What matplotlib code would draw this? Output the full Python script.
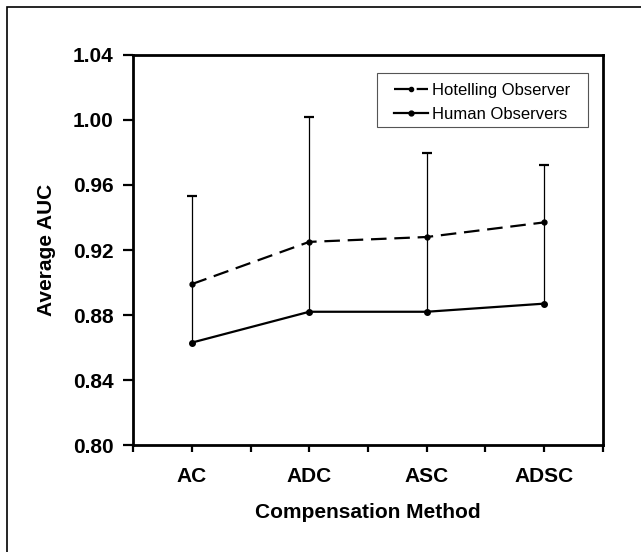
import numpy as np
import matplotlib.pyplot as plt
from matplotlib.patches import Rectangle
from matplotlib.lines import Line2D

plt.rcParams['font.family'] = ['Liberation Sans', 'DejaVu Sans']

methods = ['AC', 'ADC', 'ASC', 'ADSC']
hotelling = [0.899, 0.925, 0.928, 0.937]
human = [0.863, 0.882, 0.882, 0.887]
err_top = [0.953, 1.002, 0.9795, 0.972]

x = np.arange(1, len(methods) + 1)

fig = plt.figure(figsize=(6.41, 5.52), dpi=100)
ax = fig.add_axes([0.2075, 0.1938, 0.7332, 0.7066])

# error bars: from human mean up to the cap
ax.vlines(x, human, err_top, color='black', lw=0.9, zorder=2)
ax.plot(x, err_top, ls='none', marker='_', ms=7, mew=1.6, color='black', zorder=2)

ax.plot(x, hotelling, color='black', lw=1.6, dashes=(7, 3.5),
        marker='o', ms=3.5, zorder=3)
ax.plot(x, human, color='black', lw=1.6, marker='o', ms=4, zorder=3)

ax.set_xlim(0.5, 4.5)
ax.set_ylim(0.80, 1.04)
ax.set_yticks(np.arange(0.80, 1.041, 0.04))
ax.set_yticklabels(['%.2f' % v for v in np.arange(0.80, 1.041, 0.04)])
ax.set_xticks(x)
ax.set_xticklabels(methods)
ax.set_xticks(np.arange(0.5, 4.6, 1.0), minor=True)

for lab in ax.get_xticklabels() + ax.get_yticklabels():
    lab.set_fontweight('bold')
    lab.set_fontsize(15)
ax.tick_params(axis='y', direction='out', length=7, width=1.6, pad=7)
ax.tick_params(axis='x', which='both', direction='out', length=5, width=1.6, pad=11)

for s in ax.spines.values():
    s.set_linewidth(2)

ax.set_xlabel('Compensation Method', fontsize=15, fontweight='bold')
ax.set_ylabel('Average AUC', fontsize=15, fontweight='bold')
ax.xaxis.set_label_coords(0.5, -0.149)
ax.yaxis.set_label_coords(-0.164, 0.5)

handles = [
    Line2D([], [], color='black', lw=1.6, dashes=(7.6, 2.6), marker='o', ms=3),
    Line2D([], [], color='black', lw=1.6, marker='o', ms=3.5),
]
leg = ax.legend(handles, ['Hotelling Observer', 'Human Observers'],
                loc='upper left', bbox_to_anchor=(0.555, 0.929),
                fontsize=12, frameon=False, handlelength=2.05,
                handletextpad=0.25, borderpad=0, labelspacing=0.55,
                borderaxespad=0)
ax.add_patch(Rectangle((0.519, 0.815), 0.449, 0.139, transform=ax.transAxes,
                       fill=False, lw=0.8, ec='#555555', zorder=4))

# outer frame of the figure (top and left edges visible)
fig.add_artist(Rectangle((7 / 641, -0.5), 2, 1.5 - 6.5 / 552,
                         transform=fig.transFigure, fill=False,
                         lw=1.2, ec='black'))

fig.savefig('out.png', dpi=100)
